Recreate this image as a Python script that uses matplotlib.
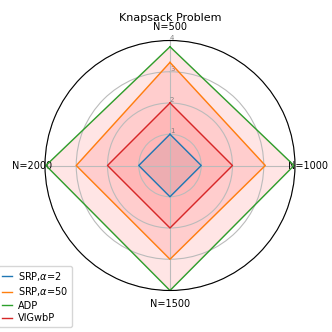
import numpy as np
import matplotlib
matplotlib.use("Agg")
import matplotlib.pyplot as plt

categories = ["N=500", "N=1000", "N=1500", "N=2000"]
series_names = ["SRP,$\\alpha$=2", "SRP,$\\alpha$=50", "ADP", "VIGwbP"]
srp2 = [1.0, 1.0, 1.0, 1.0]
srp50 = [3.3, 3.05, 3.0, 3.0]
adp = [3.8, 3.97, 4.0, 3.97]
vigwbp = [2.0, 2.0, 2.0, 2.0]
rticks = [1, 2, 3, 4]

colors = ["#1f77b4", "#ff7f0e", "#2ca02c", "#d62728"]
fill_colors = ["#1f77b4", "red", "red", "red"]

fig = plt.figure(figsize=(3.32, 3.32), dpi=100)
ax = fig.add_axes([0.1355, 0.125, 0.753, 0.753], polar=True)
ax.set_theta_offset(np.pi / 2)
ax.set_theta_direction(-1)

angles = np.linspace(0, 2 * np.pi, len(categories), endpoint=False).tolist()
angles_c = angles + angles[:1]

for vals, name, c, fc in zip([srp2, srp50, adp, vigwbp], series_names, colors, fill_colors):
    v = list(vals) + vals[:1]
    ax.plot(angles_c, v, color=c, linewidth=1, label=name)
    ax.fill(angles_c, v, color=fc, alpha=0.1)

ax.set_xticks(angles)
ax.set_xticklabels(categories, fontsize=7)
ax.tick_params(axis="x", pad=-1)
ax.set_ylim(0, 4)
ax.set_yticks(rticks)
ax.set_yticklabels([str(t) for t in rticks], fontsize=5, color="grey")
ax.set_rlabel_position(0)
ax.grid(color="#bbbbbb", linewidth=0.8)
ax.set_title("Knapsack Problem", fontsize=8, y=1.045, pad=6)

fig.legend(loc="lower left", bbox_to_anchor=(-0.005, 0.015), fontsize=7,
           handlelength=1.0, handletextpad=0.6, borderaxespad=0.0,
           labelspacing=0.25)

fig.savefig("out.png", dpi=100)
